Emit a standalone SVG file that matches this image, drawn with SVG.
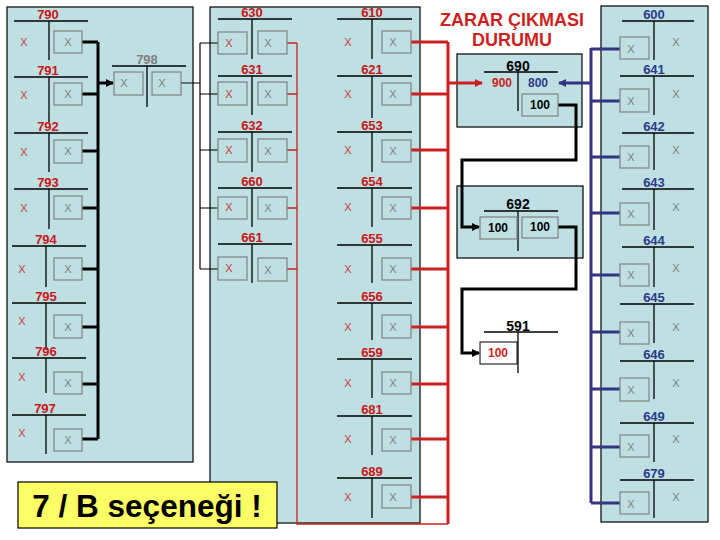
<svg xmlns="http://www.w3.org/2000/svg" width="720" height="540" viewBox="0 0 720 540">
<defs>
<style>
text{font-family:"Liberation Sans",Arial,sans-serif}
.panel{fill:#BEE0E3;stroke:#000;stroke-width:1.2}
.lr{font-size:13px;font-weight:bold;fill:#CC1515;text-anchor:middle}
.lb{font-size:13px;font-weight:bold;fill:#2B3A8A;text-anchor:middle}
.lk{font-size:14px;font-weight:bold;fill:#000;text-anchor:middle}
.lg{font-size:13px;font-weight:bold;fill:#808080;text-anchor:middle}
.xr{font-size:11px;fill:#CC3A3A;text-anchor:middle}
.xg{font-size:11px;fill:#808080;text-anchor:middle}
.t{stroke:#000;stroke-width:1.3;fill:none}
.bx{fill:none;stroke:#808080;stroke-width:1.2}
.n{font-size:12px;font-weight:bold;text-anchor:middle}
.ck{stroke:#000;stroke-width:3;fill:none}
.ckt{stroke:#000;stroke-width:1.2;fill:none}
.cr{stroke:#CC1F1F;stroke-width:3;fill:none}
.crt{stroke:#CC1F1F;stroke-width:1.3;fill:none}
.cb{stroke:#333380;stroke-width:3;fill:none}
</style>
<marker id="ak" markerWidth="8" markerHeight="8" refX="7" refY="4" orient="auto" markerUnits="userSpaceOnUse"><path d="M0,0 L8,4 L0,8 z" fill="#000"/></marker>
<marker id="ar" markerWidth="8" markerHeight="8" refX="7" refY="4" orient="auto" markerUnits="userSpaceOnUse"><path d="M0,0 L8,4 L0,8 z" fill="#CC1F1F"/></marker>
<marker id="ab" markerWidth="8" markerHeight="8" refX="7" refY="4" orient="auto" markerUnits="userSpaceOnUse"><path d="M0,0 L8,4 L0,8 z" fill="#333380"/></marker>
</defs>
<rect width="720" height="540" fill="#fff"/>
<g id="panels">
<rect class="panel" x="7" y="7" width="186" height="455"/>
<rect class="panel" x="210" y="7" width="210" height="516"/>
<rect class="panel" x="601" y="6" width="107" height="516"/>
<rect class="panel" x="457" y="54" width="125" height="73"/>
<rect class="panel" x="457" y="186" width="126" height="72"/>
</g>
<g id="connectors">
<path class="ck" d="M82,42H98M82,94H98M82,151H98M82,208H98M82,269H98M82,327H98M82,384H98M82,439H98M98,42V439"/>
<path class="ck" d="M98,83H113" marker-end="url(#ak)"/>
<path class="ckt" d="M181,83H200M200,43V269M200,43H218M200,94H218M200,150H218M200,208H218M200,269H218"/>
<path class="crt" d="M287,43H297M287,94H297M287,150H297M287,208H297M287,269H297M297,43V524H448"/>
<path class="cr" d="M411,42H448M411,94H448M411,150H448M411,208H448M411,269H448M411,327H448M411,384H448M411,439H448M411,497H448M448,42V524"/>
<path class="cr" d="M448,83H482" marker-end="url(#ar)"/>
<path class="cb" d="M591,49H620M591,101H620M591,157H620M591,213H620M591,275H620M591,332H620M591,389H620M591,447H620M591,503H620M591,48V503"/>
<path class="cb" d="M591,83H559" marker-end="url(#ab)"/>
<path class="ck" d="M558,105H576V160H462V227H479" marker-end="url(#ak)"/>
<path class="ck" d="M558,227H576V289H462V353H479" marker-end="url(#ak)"/>
</g>
<g id="title"><text x="512" y="26" font-size="18" font-weight="bold" fill="#CC1F1F" text-anchor="middle">ZARAR ÇIKMASI</text><text x="512" y="46" font-size="18" font-weight="bold" fill="#CC1F1F" text-anchor="middle">DURUMU</text></g>
<g id="a790"><text class="lr" x="48" y="19">790</text><path class="t" d="M14,21H88M49,21V60"/><text class="xr" x="24" y="46">X</text><rect class="bx" x="54" y="31" width="28" height="22"/><text class="xg" x="68" y="46">X</text></g>
<g id="a791"><text class="lr" x="48" y="75">791</text><path class="t" d="M14,77H88M49,77V122"/><text class="xr" x="24" y="99">X</text><rect class="bx" x="54" y="83" width="28" height="22"/><text class="xg" x="68" y="98">X</text></g>
<g id="a792"><text class="lr" x="48" y="131">792</text><path class="t" d="M14,133H88M49,133V172"/><text class="xr" x="24" y="156">X</text><rect class="bx" x="54" y="140" width="28" height="23"/><text class="xg" x="68" y="155">X</text></g>
<g id="a793"><text class="lr" x="48" y="187">793</text><path class="t" d="M14,189H88M49,189V229"/><text class="xr" x="24" y="212">X</text><rect class="bx" x="54" y="196" width="28" height="23"/><text class="xg" x="68" y="212">X</text></g>
<g id="a794"><text class="lr" x="46" y="244">794</text><path class="t" d="M12,246H86M46,246V287"/><text class="xr" x="22" y="273">X</text><rect class="bx" x="54" y="258" width="28" height="22"/><text class="xg" x="68" y="273">X</text></g>
<g id="a795"><text class="lr" x="46" y="301">795</text><path class="t" d="M12,303H86M46,303V350"/><text class="xr" x="22" y="325">X</text><rect class="bx" x="54" y="315" width="28" height="23"/><text class="xg" x="68" y="331">X</text></g>
<g id="a796"><text class="lr" x="46" y="356">796</text><path class="t" d="M12,358H86M46,358V393"/><text class="xr" x="22" y="381">X</text><rect class="bx" x="54" y="372" width="28" height="22"/><text class="xg" x="68" y="387">X</text></g>
<g id="a797"><text class="lr" x="45" y="413">797</text><path class="t" d="M12,415H86M46,415V454"/><text class="xr" x="22" y="437">X</text><rect class="bx" x="54" y="429" width="28" height="22"/><text class="xg" x="68" y="444">X</text></g>
<g id="a798"><text class="lg" x="147" y="64">798</text><path class="t" d="M112,66H186M147,66V107"/><rect class="bx" x="114" y="72" width="29" height="23"/><text class="xg" x="124" y="87">X</text><rect class="bx" x="152" y="72" width="29" height="23"/><text class="xg" x="162" y="87">X</text></g>
<g id="a630"><text class="lr" x="252" y="17">630</text><path class="t" d="M218,19H292M252,19V59"/><rect class="bx" x="218" y="32" width="29" height="22"/><text class="xr" x="229" y="47">X</text><rect class="bx" x="258" y="31" width="29" height="23"/><text class="xg" x="268" y="47">X</text></g>
<g id="a631"><text class="lr" x="252" y="74">631</text><path class="t" d="M218,76H292M252,76V115"/><rect class="bx" x="218" y="82" width="29" height="23"/><text class="xr" x="229" y="98">X</text><rect class="bx" x="258" y="82" width="29" height="23"/><text class="xg" x="268" y="98">X</text></g>
<g id="a632"><text class="lr" x="252" y="130">632</text><path class="t" d="M218,132H292M252,132V172"/><rect class="bx" x="218" y="139" width="29" height="23"/><text class="xr" x="229" y="154">X</text><rect class="bx" x="258" y="139" width="29" height="23"/><text class="xg" x="268" y="155">X</text></g>
<g id="a660"><text class="lr" x="252" y="186">660</text><path class="t" d="M218,188H292M252,188V227"/><rect class="bx" x="218" y="197" width="29" height="22"/><text class="xr" x="229" y="211">X</text><rect class="bx" x="258" y="197" width="29" height="22"/><text class="xg" x="268" y="212">X</text></g>
<g id="a661"><text class="lr" x="252" y="242">661</text><path class="t" d="M218,244H292M252,244V283"/><rect class="bx" x="218" y="257" width="29" height="23"/><text class="xr" x="229" y="272">X</text><rect class="bx" x="258" y="258" width="29" height="23"/><text class="xg" x="268" y="274">X</text></g>
<g id="a610"><text class="lr" x="372" y="17">610</text><path class="t" d="M337,19H412M372,19V59"/><text class="xr" x="348" y="46">X</text><rect class="bx" x="382" y="31" width="29" height="22"/><text class="xg" x="393" y="46">X</text></g>
<g id="a621"><text class="lr" x="372" y="74">621</text><path class="t" d="M337,76H412M372,76V118"/><text class="xr" x="348" y="98">X</text><rect class="bx" x="382" y="83" width="29" height="22"/><text class="xg" x="393" y="98">X</text></g>
<g id="a653"><text class="lr" x="372" y="130">653</text><path class="t" d="M337,132H412M372,132V172"/><text class="xr" x="348" y="154">X</text><rect class="bx" x="382" y="140" width="29" height="22"/><text class="xg" x="393" y="155">X</text></g>
<g id="a654"><text class="lr" x="372" y="186">654</text><path class="t" d="M337,188H412M372,188V227"/><text class="xr" x="348" y="211">X</text><rect class="bx" x="382" y="197" width="29" height="22"/><text class="xg" x="393" y="212">X</text></g>
<g id="a655"><text class="lr" x="372" y="243">655</text><path class="t" d="M337,245H412M372,245V283"/><text class="xr" x="348" y="273">X</text><rect class="bx" x="382" y="258" width="29" height="22"/><text class="xg" x="393" y="273">X</text></g>
<g id="a656"><text class="lr" x="372" y="301">656</text><path class="t" d="M337,303H412M372,303V340"/><text class="xr" x="348" y="331">X</text><rect class="bx" x="382" y="315" width="29" height="23"/><text class="xg" x="393" y="331">X</text></g>
<g id="a659"><text class="lr" x="372" y="357">659</text><path class="t" d="M337,359H412M372,359V398"/><text class="xr" x="348" y="387">X</text><rect class="bx" x="382" y="372" width="29" height="22"/><text class="xg" x="393" y="387">X</text></g>
<g id="a681"><text class="lr" x="372" y="414">681</text><path class="t" d="M337,416H412M372,416V455"/><text class="xr" x="348" y="443">X</text><rect class="bx" x="382" y="429" width="29" height="22"/><text class="xg" x="393" y="444">X</text></g>
<g id="a689"><text class="lr" x="372" y="476">689</text><path class="t" d="M337,478H412M372,478V518"/><text class="xr" x="348" y="501">X</text><rect class="bx" x="382" y="485" width="29" height="23"/><text class="xg" x="393" y="501">X</text></g>
<g id="a600"><text class="lb" x="654" y="19">600</text><path class="t" d="M622,21H694M654,21V60"/><rect class="bx" x="620" y="37" width="29" height="22"/><text class="xg" x="631" y="53">X</text><text class="xg" x="676" y="46">X</text></g>
<g id="a641"><text class="lb" x="654" y="74">641</text><path class="t" d="M620,76H694M654,76V115"/><rect class="bx" x="620" y="89" width="29" height="23"/><text class="xg" x="631" y="105">X</text><text class="xg" x="676" y="98">X</text></g>
<g id="a642"><text class="lb" x="654" y="131">642</text><path class="t" d="M622,133H694M654,133V170"/><rect class="bx" x="620" y="146" width="29" height="22"/><text class="xg" x="631" y="161">X</text><text class="xg" x="676" y="154">X</text></g>
<g id="a643"><text class="lb" x="654" y="187">643</text><path class="t" d="M622,189H694M654,189V230"/><rect class="bx" x="620" y="203" width="29" height="22"/><text class="xg" x="631" y="218">X</text><text class="xg" x="676" y="211">X</text></g>
<g id="a644"><text class="lb" x="654" y="245">644</text><path class="t" d="M622,247H694M654,247V287"/><rect class="bx" x="620" y="264" width="29" height="22"/><text class="xg" x="631" y="279">X</text><text class="xg" x="676" y="272">X</text></g>
<g id="a645"><text class="lb" x="654" y="302">645</text><path class="t" d="M620,304H694M654,304V343"/><rect class="bx" x="620" y="322" width="29" height="22"/><text class="xg" x="631" y="337">X</text><text class="xg" x="676" y="331">X</text></g>
<g id="a646"><text class="lb" x="654" y="359">646</text><path class="t" d="M620,361H694M654,361V399"/><rect class="bx" x="620" y="378" width="29" height="23"/><text class="xg" x="631" y="394">X</text><text class="xg" x="676" y="387">X</text></g>
<g id="a649"><text class="lb" x="654" y="421">649</text><path class="t" d="M620,423H694M654,423V462"/><rect class="bx" x="620" y="435" width="29" height="22"/><text class="xg" x="631" y="451">X</text><text class="xg" x="676" y="443">X</text></g>
<g id="a679"><text class="lb" x="654" y="478">679</text><path class="t" d="M620,480H694M654,480V518"/><rect class="bx" x="620" y="492" width="29" height="22"/><text class="xg" x="631" y="508">X</text><text class="xg" x="676" y="501">X</text></g>
<g id="a690"><text class="lk" x="518" y="71">690</text><path class="t" d="M484,72H558M518,72V111"/><text class="n" x="502" y="87" fill="#CC1F1F">900</text><text class="n" x="538" y="87" fill="#2B3A8A">800</text><rect class="bx" x="522" y="94" width="36" height="22"/><text class="n" x="540" y="109" fill="#000">100</text></g>
<g id="a692"><text class="lk" x="518" y="209">692</text><path class="t" d="M484,211H558M518,211V251"/><rect class="bx" x="480" y="217" width="37" height="22"/><text class="n" x="498" y="232" fill="#000">100</text><rect class="bx" x="522" y="217" width="36" height="21"/><text class="n" x="540" y="231" fill="#000">100</text></g>
<g id="a591"><text class="lk" x="518" y="331">591</text><path class="t" d="M484,332H558M518,332V373"/><rect x="480" y="342" width="37" height="22" fill="#fff" stroke="#000" stroke-width="1"/><text class="n" x="498" y="357" fill="#CC1F1F">100</text></g>
<g id="note"><rect x="18" y="482" width="259" height="46" fill="#FFFF66" stroke="#000" stroke-width="1.2"/><text x="147" y="517" font-size="31.5" font-weight="bold" fill="#000" text-anchor="middle">7 / B seçeneği !</text></g>
</svg>
